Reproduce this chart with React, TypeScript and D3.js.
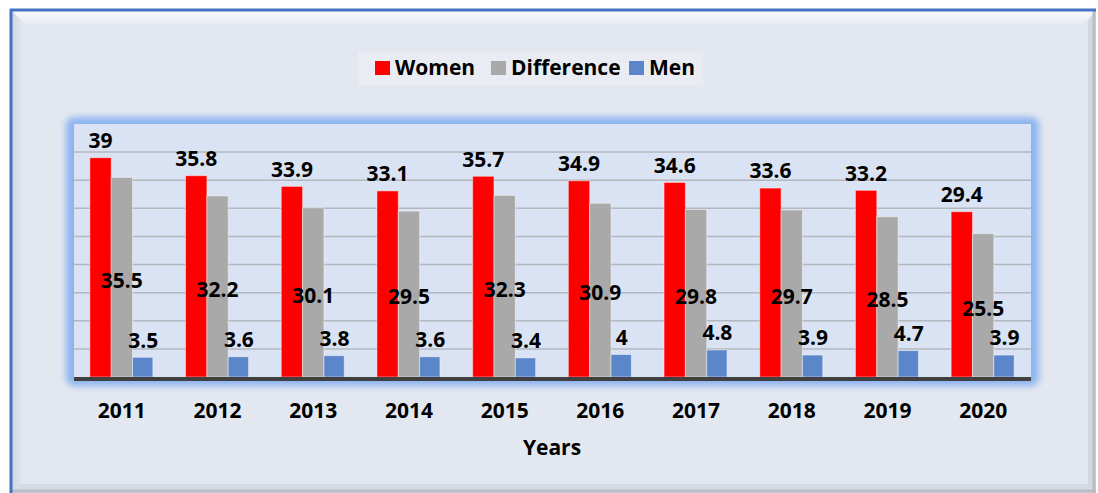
import React from 'react';
import * as d3 from 'd3';

const years = ['2011', '2012', '2013', '2014', '2015', '2016', '2017', '2018', '2019', '2020'];
const women = [39, 35.8, 33.9, 33.1, 35.7, 34.9, 34.6, 33.6, 33.2, 29.4];
const difference = [35.5, 32.2, 30.1, 29.5, 32.3, 30.9, 29.8, 29.7, 28.5, 25.5];
const men = [3.5, 3.6, 3.8, 3.6, 3.4, 4, 4.8, 3.9, 4.7, 3.9];
const gridTicks = [5, 10, 15, 20, 25, 30, 35, 40];

const seriesNames = ['Women', 'Difference', 'Men'];
const colors = ['#ff0000', '#a9a9a9', '#5b86c9'];

const W = 1098;
const H = 493;
const plot = { left: 74, right: 1031, top: 124, bottom: 377 };
const font = "'Open Sans', sans-serif";
const fs = 21;

const App = () => {
  const x = d3.scaleBand<string>().domain(years).range([plot.left, plot.right]).padding(0);
  const groupW = 64;
  const x1 = d3.scaleBand<string>().domain(seriesNames).range([0, groupW]).padding(0);
  const y = d3.scaleLinear().domain([0, 45]).range([plot.bottom, plot.top]);
  const series = [women, difference, men];

  const legendItems = [
    { name: 'Women', x: 375 },
    { name: 'Difference', x: 491 },
    { name: 'Men', x: 629 },
  ];

  return (
    <svg width={W} height={H} style={{ position: 'absolute', left: 0, top: 0 }}>
      <defs>
        <filter id="glow" x="-10%" y="-20%" width="120%" height="140%">
          <feGaussianBlur stdDeviation="3.5" />
        </filter>
        <linearGradient id="topBevel" x1="0" y1="0" x2="0" y2="1">
          <stop offset="0" stopColor="#f7f9fc" />
          <stop offset="1" stopColor="#e8ecf3" />
        </linearGradient>
        <linearGradient id="leftBevel" x1="0" y1="0" x2="1" y2="0">
          <stop offset="0" stopColor="#d0d6df" />
          <stop offset="1" stopColor="#e6eaf1" />
        </linearGradient>
      </defs>
      <rect x={0} y={0} width={W} height={H} fill="#ffffff" />
      {/* frame */}
      <rect x={12} y={11} width={1084} height={482} fill="#e3e8f0" />
      <polygon points="12,11 1096,11 1083,24 25,24" fill="url(#topBevel)" />
      <polygon points="12,11 25,24 25,481 12,493" fill="url(#leftBevel)" />
      <polygon points="1096,11 1096,493 1088,486 1088,20" fill="#d3d8e0" />
      <polygon points="12,493 1096,493 1088,484 20,484" fill="#d6dbe3" />
      <line x1={1094} y1={11} x2={1094} y2={493} stroke="#b9bec6" strokeWidth={3} />
      <line x1={12} y1={491} x2={1096} y2={491} stroke="#b9bec6" strokeWidth={3} />
      <line x1={10} y1={10} x2={1096} y2={10} stroke="#4472c4" strokeWidth={3} />
      <line x1={11} y1={9} x2={11} y2={493} stroke="#4472c4" strokeWidth={3} />

      {/* legend */}
      <rect x={358} y={52} width={345} height={33} fill="#e9edf3" />
      {legendItems.map((d, i) => (
        <g key={d.name}>
          <rect x={d.x} y={61} width={15} height={14} fill={colors[i]} />
          <text x={d.x + 20} y={68} dy="0.35em" fontFamily={font} fontWeight="bold" fontSize={fs} fill="#000">
            {d.name}
          </text>
        </g>
      ))}

      {/* plot area */}
      <rect x={plot.left - 8} y={plot.top - 7} width={plot.right - plot.left + 16} height={plot.bottom - plot.top + 16}
        rx={8} fill="#8cb3f0" filter="url(#glow)" />
      <rect x={plot.left} y={plot.top} width={plot.right - plot.left} height={plot.bottom - plot.top} fill="#dae3f3" />
      {gridTicks.map((t) => (
        <line key={t} x1={plot.left} x2={plot.right} y1={y(t)} y2={y(t)} stroke="#b3b7be" strokeWidth={1.5} />
      ))}

      {/* bars */}
      {years.map((yr, i) => {
        const gx = (x(yr) as number) + (x.bandwidth() - groupW) / 2;
        return (
          <g key={yr}>
            {series.map((s, j) => (
              <rect key={j} x={gx + (x1(seriesNames[j]) as number)} y={y(s[i])}
                width={x1.bandwidth() - (j === 2 ? 1 : 0)} height={y(0) - y(s[i])}
                fill={colors[j]} stroke="#ffffff" strokeOpacity={0.45} strokeWidth={1} />
            ))}
          </g>
        );
      })}

      {/* labels */}
      {years.map((yr, i) => {
        const gx = (x(yr) as number) + (x.bandwidth() - groupW) / 2;
        const cx = (j: number) => gx + (x1(seriesNames[j]) as number) + x1.bandwidth() / 2;
        return (
          <g key={yr} fontFamily={font} fontWeight="bold" fontSize={fs} fill="#000" textAnchor="middle">
            <text x={cx(0)} y={y(women[i]) - 17} dy="0.35em">{women[i]}</text>
            <text x={cx(1)} y={(y(difference[i]) + y(0)) / 2 + 3} dy="0.35em">{difference[i]}</text>
            <text x={cx(2)} y={y(men[i]) - 17} dy="0.35em">{men[i]}</text>
          </g>
        );
      })}

      <line x1={plot.left} x2={plot.right} y1={plot.bottom + 2} y2={plot.bottom + 2} stroke="#404040" strokeWidth={4} />

      {/* x axis */}
      {years.map((yr) => (
        <text key={yr} x={(x(yr) as number) + x.bandwidth() / 2} y={411} dy="0.35em" textAnchor="middle"
          fontFamily={font} fontWeight="bold" fontSize={fs} fill="#000">{yr}</text>
      ))}
      <text x={552} y={448} dy="0.35em" textAnchor="middle" fontFamily={font} fontWeight="bold" fontSize={fs} fill="#000">
        Years
      </text>
    </svg>
  );
};

export default App;
